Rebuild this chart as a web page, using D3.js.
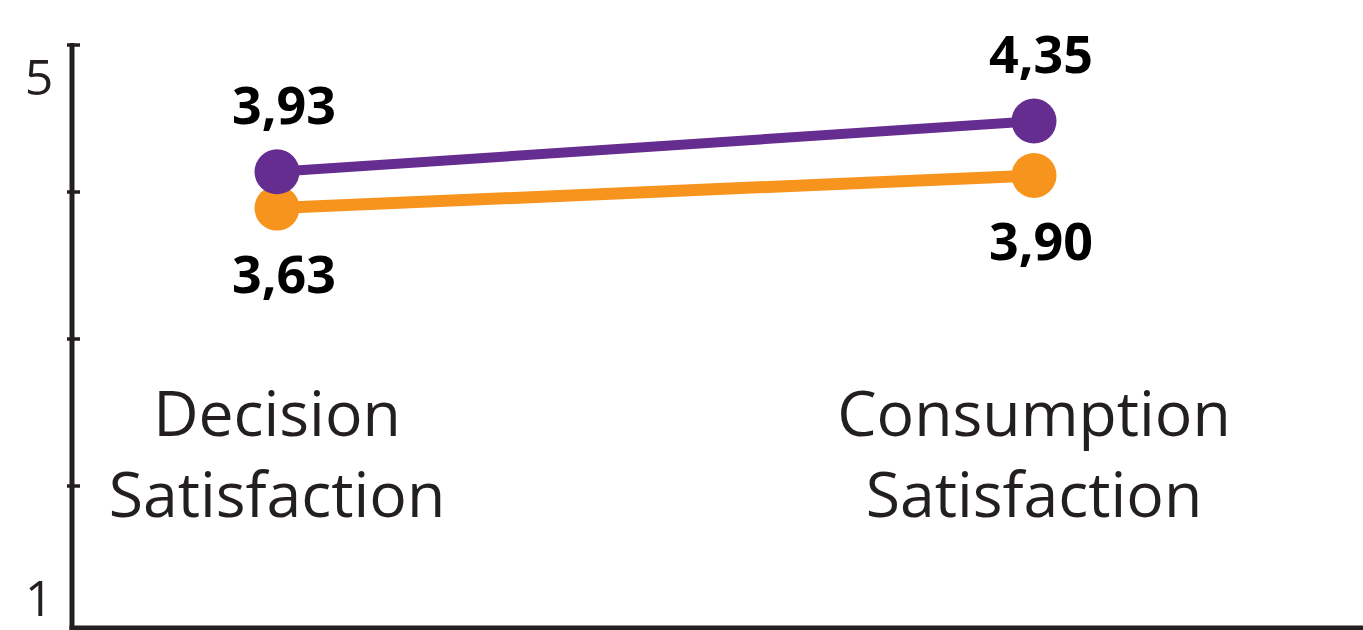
<!DOCTYPE html>
<html>
<head>
<meta charset="utf-8">
<script src="https://cdn.jsdelivr.net/npm/d3@7"></script>
<style>
  html, body { margin: 0; padding: 0; background: #fff; }
  svg { display: block; }
</style>
</head>
<body>
<svg id="chart" width="1363" height="630"></svg>
<script>
// ---- data ----
const categories = ["Decision Satisfaction", "Consumption Satisfaction"];
const seriesNames = ["Group A", "Group B"];
const purpleValues = [3.93, 4.35];
const orangeValues = [3.63, 3.90];
const axisTickValues = [2, 3, 4, 5];
const axisEndLabels = ["1", "5"];

// ---- layout ----
const W = 1363, H = 630;
const svg = d3.select("#chart");
const ink = "#231F20";
const fontFam = "'Open Sans', 'Noto Sans', sans-serif";

const x = d3.scalePoint().domain(categories).range([277, 1034]);
// axis scale (ticks) and data scale as drawn in the reference
const yAxis = d3.scaleLinear().domain([1, 5]).range([633, 45]);
const y = d3.scaleLinear().domain([1, 5]).range([526, 42.5]);

// ---- axes ----
const axisX = 72;
svg.append("line")
  .attr("x1", axisX).attr("x2", axisX)
  .attr("y1", yAxis(5) - 2).attr("y2", H)
  .attr("stroke", ink).attr("stroke-width", 5);
svg.append("line")
  .attr("x1", axisX - 2.5).attr("x2", W)
  .attr("y1", 628).attr("y2", 628)
  .attr("stroke", ink).attr("stroke-width", 5);
svg.selectAll("line.tick").data(axisTickValues).join("line")
  .attr("class", "tick")
  .attr("x1", 67).attr("x2", 80)
  .attr("y1", d => yAxis(d)).attr("y2", d => yAxis(d))
  .attr("stroke", ink).attr("stroke-width", 3.5);

svg.append("text").text(axisEndLabels[1])
  .attr("x", 39).attr("y", 95)
  .attr("text-anchor", "middle")
  .attr("font-family", fontFam).attr("font-size", 50)
  .attr("fill", ink);
svg.append("text").text(axisEndLabels[0])
  .attr("x", 39).attr("y", 616)
  .attr("text-anchor", "middle")
  .attr("font-family", fontFam).attr("font-size", 49)
  .attr("fill", ink);

// ---- category labels ----
const catG = svg.selectAll("text.cat").data(categories).join("text")
  .attr("class", "cat")
  .attr("text-anchor", "middle")
  .attr("font-family", fontFam).attr("font-size", 62.5)
  .attr("fill", ink);
catG.each(function(d) {
  const words = d.split(" ");
  const t = d3.select(this);
  words.forEach((w, i) => {
    t.append("tspan").text(w)
      .attr("x", x(d))
      .attr("y", 436 + i * 81);
  });
});

// ---- series ----
const series = [
  { name: seriesNames[0], values: purpleValues, color: "#662D91", width: 10, labelDy: -48 },
  { name: seriesNames[1], values: orangeValues, color: "#F7941D", width: 12, labelDy: 85 }
];
const line = d3.line().x(d => x(d.cat)).y(d => y(d.v));

// draw orange first then purple so purple dot sits on top
[series[1], series[0]].forEach(s => {
  const pts = s.values.map((v, i) => ({ cat: categories[i], v }));
  svg.append("path").datum(pts)
    .attr("d", line)
    .attr("fill", "none")
    .attr("stroke", s.color)
    .attr("stroke-width", s.width);
  svg.selectAll(null).data(pts).join("circle")
    .attr("cx", d => x(d.cat)).attr("cy", d => y(d.v))
    .attr("r", 22.5)
    .attr("fill", s.color);
  svg.selectAll(null).data(pts).join("text")
    .attr("x", d => x(d.cat) + 7)
    .attr("y", d => y(d.v) + s.labelDy)
    .attr("text-anchor", "middle")
    .attr("font-family", fontFam).attr("font-weight", 700)
    .attr("font-size", 52)
    .attr("fill", "#000")
    .text(d => d.v.toFixed(2).replace(".", ","));
});
</script>
</body>
</html>
